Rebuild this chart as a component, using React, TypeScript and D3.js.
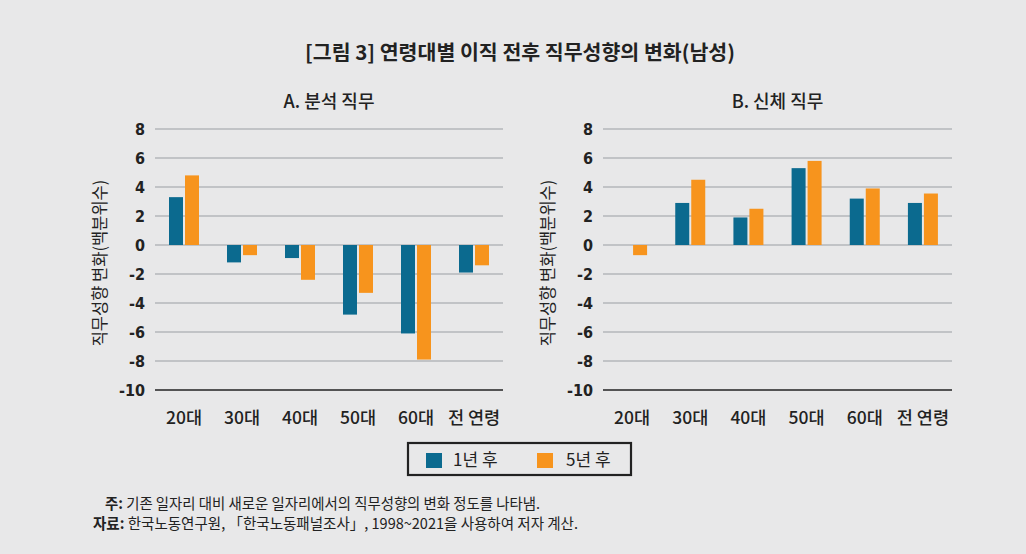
import React from "react";
import * as d3 from "d3";

const categories = ["20대", "30대", "40대", "50대", "60대", "전 연령"];
const seriesNames = ["1년 후", "5년 후"];
const analytic1y = [3.3, -1.2, -0.9, -4.8, -6.1, -1.9];
const analytic5y = [4.8, -0.7, -2.4, -3.3, -7.9, -1.4];
const physical1y = [0, 2.9, 1.9, 5.3, 3.2, 2.9];
const physical5y = [-0.7, 4.5, 2.5, 5.8, 3.9, 3.55];
const yTicks = [8, 6, 4, 2, 0, -2, -4, -6, -8, -10];
const colors = ["#0b6a8f", "#f7941d"];

const W = 1026;
const H = 554;
const KFONT = "'Noto Sans CJK KR', 'Noto Sans', sans-serif";
const NFONT = "'DejaVu Sans Condensed', 'DejaVu Sans', sans-serif";

function Panel({ x0, x1, title, s1, s2 }: { x0: number; x1: number; title: string; s1: number[]; s2: number[] }) {
  const y = d3.scaleLinear().domain([-10, 8]).range([390, 129]);
  const x = d3.scaleBand().domain(categories).range([x0, x1]).padding(0);
  const bw = 14;
  const gap = 2;
  return (
    <g>
      <text x={(x0 + x1) / 2} y={108} textAnchor="middle" fontFamily={KFONT} fontSize={18} fontWeight={500} fill="#222">
        {title}
      </text>
      {yTicks.map((t) => (
        <g key={t}>
          <line x1={x0} x2={x1} y1={y(t)} y2={y(t)} stroke={t === -10 ? "#222" : "#9a9ea3"} strokeWidth={t === -10 ? 1.3 : 1} />
          <text x={x0 - 10} y={y(t)} dy="0.36em" textAnchor="end" fontFamily={NFONT} fontWeight="bold" fontSize={16} fill="#222">
            {t}
          </text>
        </g>
      ))}
      {categories.map((c, i) => {
        const cx = (x(c) as number) + x.bandwidth() / 2;
        const vals = [s1[i], s2[i]];
        return (
          <g key={c}>
            {vals.map((v, j) => {
              const bx = j === 0 ? cx - gap / 2 - bw : cx + gap / 2;
              const top = Math.min(y(v), y(0));
              const h = Math.abs(y(v) - y(0));
              return h > 0 ? <rect key={j} x={bx} y={top} width={bw} height={h} fill={colors[j]} /> : null;
            })}
            <text x={cx} y={424} textAnchor="middle" fontFamily={KFONT} fontSize={17.5} fontWeight={500} fill="#222">
              {c}
            </text>
          </g>
        );
      })}
      <text
        transform={`translate(${x0 - 55},${263}) rotate(-90)`}
        textAnchor="middle"
        dy="0.35em"
        fontFamily={KFONT}
        fontSize={16.5}
        fill="#222"
      >
        직무성향 변화(백분위수)
      </text>
    </g>
  );
}

export default function App() {
  return (
    <svg width={W} height={H} style={{ position: "absolute", left: 0, top: 0 }}>
      <rect x={0} y={0} width={W} height={H} fill="#e8e8e9" />
      <text x={520} y={60} textAnchor="middle" fontFamily={KFONT} fontSize={20} fontWeight="bold" fill="#222" textLength={430} lengthAdjust="spacingAndGlyphs">
        [그림 3] 연령대별 이직 전후 직무성향의 변화(남성)
      </text>
      <Panel x0={155} x1={503} title="A. 분석 직무" s1={analytic1y} s2={analytic5y} />
      <Panel x0={603} x1={952} title="B. 신체 직무" s1={physical1y} s2={physical5y} />
      <rect x={408} y={443} width={223} height={32} fill="none" stroke="#222" strokeWidth={2.2} />
      {seriesNames.map((s, i) => (
        <g key={s}>
          <rect x={426 + i * 111} y={453} width={16} height={15} fill={colors[i]} />
          <text x={453 + i * 113} y={460.5} dy="0.35em" fontFamily={KFONT} fontSize={17} fill="#222">
            {s}
          </text>
        </g>
      ))}
      <text x={105} y={504} dy="0.35em" fontFamily={KFONT} fontSize={15} fill="#222" textLength={435} lengthAdjust="spacingAndGlyphs">
        <tspan fontWeight="bold">주:</tspan> 기존 일자리 대비 새로운 일자리에서의 직무성향의 변화 정도를 나타냄.
      </text>
      <text x={93} y={524} dy="0.35em" fontFamily={KFONT} fontSize={15} fill="#222" textLength={485} lengthAdjust="spacingAndGlyphs">
        <tspan fontWeight="bold">자료:</tspan> 한국노동연구원, 「한국노동패널조사」, 1998~2021을 사용하여 저자 계산.
      </text>
    </svg>
  );
}
